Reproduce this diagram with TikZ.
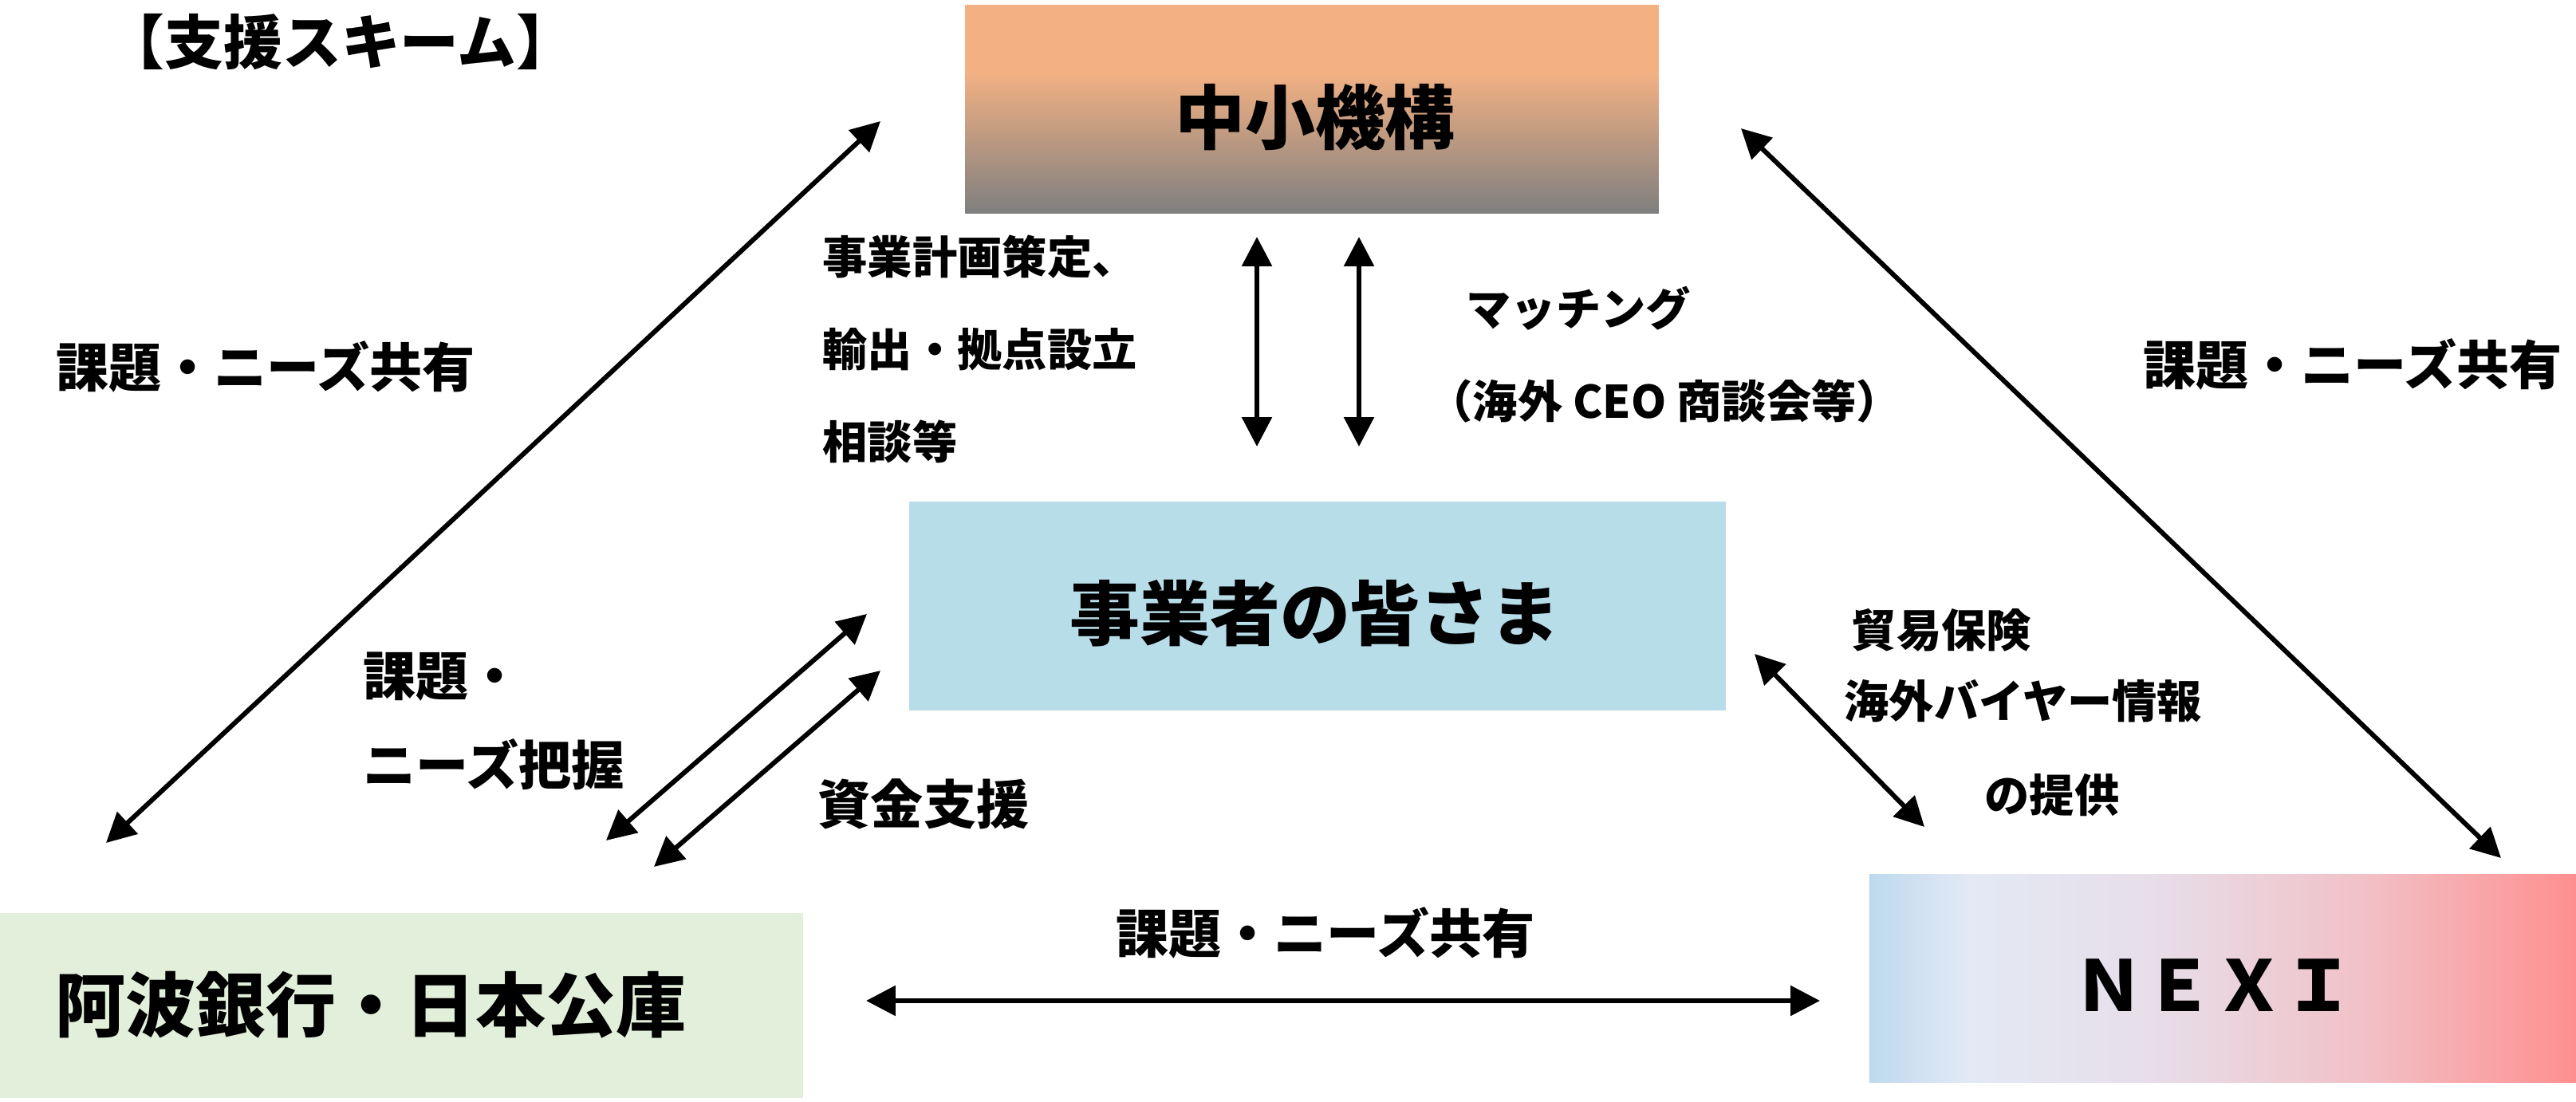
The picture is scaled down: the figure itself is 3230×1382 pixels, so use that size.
\documentclass[tikz,border=0pt]{standalone}
\usepackage{fontspec}
\newfontfamily\jp{Noto Sans CJK JP}
\usetikzlibrary{arrows.meta}
\definecolor{kpeach}{RGB}{243,177,131}
\definecolor{kgray}{RGB}{127,127,127}
\definecolor{jblue}{RGB}{183,221,232}
\definecolor{bgreen}{RGB}{226,239,218}
\definecolor{nA}{RGB}{189,217,238}
\definecolor{nB}{RGB}{227,233,245}
\definecolor{nC}{RGB}{231,222,233}
\definecolor{nD}{RGB}{241,193,199}
\definecolor{nE}{RGB}{255,143,143}
\pgfdeclareverticalshading{kikoushade}{100bp}{color(0bp)=(kgray); color(25bp)=(kgray); color(59bp)=(kpeach); color(100bp)=(kpeach)}
\pgfdeclarehorizontalshading{nexishade}{100bp}{color(0bp)=(nA); color(25bp)=(nA); color(32bp)=(nB); color(45bp)=(nC); color(60bp)=(nD); color(75bp)=(nE); color(100bp)=(nE)}
\begin{document}
\begin{tikzpicture}[x=0.01cm,y=-0.01cm,
  box/.style={inner sep=0pt, outer sep=0pt, draw=none},
  bigtxt/.style={font=\jp\bfseries\fontsize{25}{30}\selectfont, inner sep=0pt},
  titletxt/.style={font=\jp\bfseries\fontsize{21}{25}\selectfont, inner sep=0pt},
  midtxt/.style={font=\jp\bfseries\fontsize{18.8}{22}\selectfont, inner sep=0pt},
  smalltxt/.style={font=\jp\bfseries\fontsize{16}{19}\selectfont, inner sep=0pt},
  dbl/.style={{Triangle[length=10.5pt,width=10.5pt]}-{Triangle[length=10.5pt,width=10.5pt]}, line width=1.7pt}
]
\useasboundingbox (0,0) rectangle (3230,1382);
% boxes
\node[box, shade, shading=kikoushade, minimum width=8.69cm, minimum height=2.60cm] (kikou) at (1645,137) {};
\node[bigtxt] (kikoutxt) at (1649,147) {中小機構};
\node[box, fill=jblue, minimum width=10.24cm, minimum height=2.61cm] (jigyo) at (1652,760) {};
\node[bigtxt] (jigyotxt) at (1649,769) {事業者の皆さま};
\node[box, fill=bgreen, minimum width=10.07cm, minimum height=2.32cm] (bank) at (503,1261) {};
\node[bigtxt] (banktxt) at (465,1260) {阿波銀行・日本公庫};
\node[box, shade, shading=nexishade, minimum width=8.86cm, minimum height=2.61cm] (nexi) at (2787,1227) {};
\node[bigtxt] (nexitxt) at (2776,1236) {ＮＥＸＩ};
% title
\node[titletxt] (title) at (427,53) {【支援スキーム】};
% labels
\node[midtxt] (lshare) at (333,460) {課題・ニーズ共有};
\node[midtxt] (rshare) at (2950,457) {課題・ニーズ共有};
\node[midtxt] (bshare) at (1662,1170) {課題・ニーズ共有};
\node[midtxt, anchor=west] (haaku1) at (455,849) {課題・};
\node[midtxt, anchor=west] (haaku2) at (455,959) {ニーズ把握};
\node[midtxt] (shikin) at (1158,1008) {資金支援};
\node[smalltxt, anchor=west] (sodan1) at (1031,322) {事業計画策定、};
\node[smalltxt, anchor=west] (sodan2) at (1031,438) {輸出・拠点設立};
\node[smalltxt, anchor=west] (sodan3) at (1031,554) {相談等};
\node[smalltxt, anchor=west] (match1) at (1838,387) {マッチング};
\node[smalltxt, anchor=west] (match2) at (1790,503) {（海外 CEO 商談会等）};
\node[smalltxt, anchor=west] (boeki1) at (2321,790) {貿易保険};
\node[smalltxt, anchor=west] (boeki2) at (2312,879) {海外バイヤー情報};
\node[smalltxt] (boeki3) at (2573,997) {の提供};
% arrow end points
\coordinate (a1s) at (1104,152); \coordinate (a1e) at (133,1057);
\coordinate (a2s) at (2183,161); \coordinate (a2e) at (3136,1076);
\coordinate (v1s) at (1576,297); \coordinate (v1e) at (1576,560);
\coordinate (v2s) at (1704,297); \coordinate (v2e) at (1704,560);
\coordinate (d1s) at (1087,770); \coordinate (d1e) at (760,1054);
\coordinate (d2s) at (1104,841); \coordinate (d2e) at (820,1087);
\coordinate (d3s) at (2200,820); \coordinate (d3e) at (2413,1037);
\coordinate (hs) at (1086,1255); \coordinate (he) at (2282,1255);
\draw[dbl] (a1s) -- (a1e);
\draw[dbl] (a2s) -- (a2e);
\draw[dbl] (v1s) -- (v1e);
\draw[dbl] (v2s) -- (v2e);
\draw[dbl] (d1s) -- (d1e);
\draw[dbl] (d2s) -- (d2e);
\draw[dbl] (d3s) -- (d3e);
\draw[dbl] (hs) -- (he);
\end{tikzpicture}
\end{document}
